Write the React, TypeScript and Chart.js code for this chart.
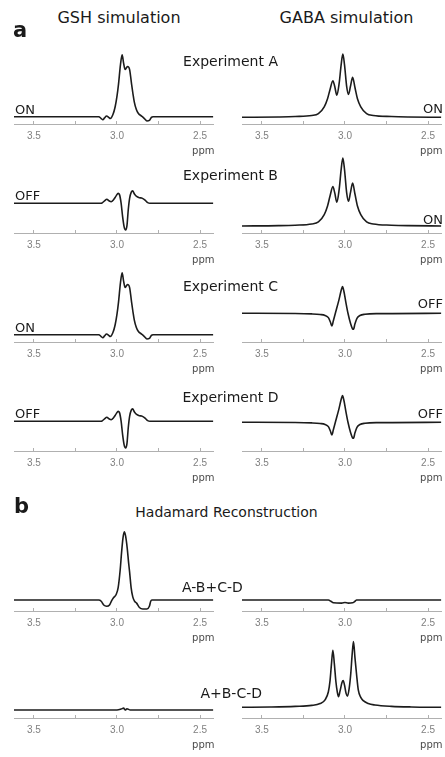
import React, { useEffect, useRef } from 'react';
import { Chart, registerables } from 'chart.js';

Chart.register(...registerables);

// ppm axis (reversed, NMR style)
const PPM_MIN = 2.42;
const PPM_MAX = 3.62;
const PPM_TICKS = [3.5, 3.25, 3.0, 2.75, 2.5];
const PPM_LABELED = [3.5, 3.0, 2.5];
const AXIS_UNIT = 'ppm';

// spectra: [ppm, intensity]
const GSH_ON: [number, number][] = [
  [3.62, 0], [3.2, 0], [3.11, 0], [3.095, -0.03], [3.085, -0.05], [3.075, -0.02], [3.0625, 0.01],
  [3.05, -0.01], [3.04, -0.03], [3.025, 0.03], [3.011, 0.16], [3.0, 0.33], [2.991, 0.52],
  [2.979, 0.84], [2.969, 1.0], [2.96, 0.86], [2.951, 0.76], [2.943, 0.79], [2.936, 0.81],
  [2.924, 0.76], [2.912, 0.52], [2.904, 0.37], [2.896, 0.24], [2.884, 0.12], [2.872, 0.055],
  [2.852, 0.01], [2.835, -0.03], [2.82, -0.07], [2.805, -0.06], [2.793, -0.01], [2.783, 0], [2.42, 0],
];

const GSH_OFF: [number, number][] = [
  [3.62, 0], [3.1, 0], [3.09, 0.005], [3.075, 0.04], [3.061, 0.065], [3.048, 0.04], [3.035, 0.026],
  [3.02, 0.06], [3.005, 0.12], [2.993, 0.16], [2.985, 0.14], [2.975, 0.0], [2.966, -0.22],
  [2.957, -0.38], [2.948, -0.43], [2.94, -0.36], [2.932, -0.1], [2.924, 0.08], [2.914, 0.18],
  [2.906, 0.2], [2.895, 0.15], [2.882, 0.11], [2.865, 0.09], [2.852, 0.085], [2.835, 0.06],
  [2.815, 0.01], [2.802, 0], [2.42, 0],
];

const GABA_ON: [number, number][] = [
  [3.62, 0], [3.4, 0.005], [3.3, 0.012], [3.2, 0.03], [3.16, 0.06], [3.125, 0.17], [3.105, 0.3],
  [3.09, 0.45], [3.073, 0.59], [3.062, 0.5], [3.049, 0.355], [3.035, 0.55], [3.023, 0.85],
  [3.013, 1.02], [3.003, 0.85], [2.99, 0.5], [2.979, 0.37], [2.967, 0.5], [2.954, 0.645],
  [2.94, 0.48], [2.925, 0.3], [2.905, 0.17], [2.87, 0.06], [2.83, 0.03], [2.72, 0.012],
  [2.62, 0.005], [2.42, 0],
];

const GABA_OFF: [number, number][] = [
  [3.62, 0], [3.3, -0.003], [3.2, -0.01], [3.15, -0.02], [3.12, -0.035], [3.1, -0.07],
  [3.088, -0.14], [3.079, -0.205], [3.07, -0.12], [3.058, 0.0], [3.036, 0.22], [3.022, 0.38],
  [3.015, 0.43], [3.007, 0.36], [2.995, 0.18], [2.982, 0.0], [2.966, -0.17], [2.955, -0.25],
  [2.949, -0.258], [2.94, -0.17], [2.928, -0.08], [2.91, -0.035], [2.88, -0.015], [2.8, -0.005],
  [2.42, 0],
];

const GSH_SUM: [number, number][] = [
  [3.62, 0], [3.11, 0], [3.095, -0.02], [3.08, -0.08], [3.062, -0.1], [3.045, -0.08],
  [3.032, -0.01], [3.02, 0.04], [3.005, 0.09], [2.993, 0.2], [2.981, 0.48], [2.972, 0.78],
  [2.964, 1.0], [2.956, 1.1], [2.948, 1.03], [2.939, 0.85], [2.93, 0.6], [2.924, 0.45],
  [2.915, 0.2], [2.905, 0.05], [2.894, -0.02], [2.882, -0.05], [2.865, -0.12], [2.845, -0.145],
  [2.82, -0.145], [2.805, -0.1], [2.797, -0.02], [2.79, 0], [2.42, 0],
];

const GABA_DIFF: [number, number][] = [
  [3.62, 0], [3.1, 0], [3.085, -0.02], [3.07, -0.045], [3.02, -0.05], [3.0, -0.04],
  [2.98, -0.05], [2.955, -0.045], [2.94, -0.02], [2.93, 0], [2.42, 0],
];

const GSH_DIFF: [number, number][] = [
  [3.62, 0], [3.0, 0], [2.975, 0.015], [2.96, 0.03], [2.95, 0.0], [2.94, 0.02], [2.92, 0], [2.42, 0],
];

const GABA_SUM: [number, number][] = [
  [3.62, 0], [3.45, 0.005], [3.3, 0.015], [3.2, 0.03], [3.15, 0.06], [3.12, 0.12], [3.1, 0.25],
  [3.09, 0.43], [3.082, 0.68], [3.073, 0.92], [3.064, 0.7], [3.055, 0.42], [3.046, 0.24],
  [3.039, 0.17], [3.03, 0.26], [3.018, 0.4], [3.011, 0.43], [3.003, 0.36], [2.993, 0.22],
  [2.985, 0.18], [2.975, 0.3], [2.965, 0.55], [2.957, 0.85], [2.949, 1.06], [2.94, 0.8],
  [2.93, 0.52], [2.92, 0.28], [2.905, 0.16], [2.89, 0.106], [2.86, 0.06], [2.82, 0.037],
  [2.72, 0.015], [2.6, 0.005], [2.42, 0],
];

const FONT = '"DejaVu Sans", sans-serif';
const TEXT = '#1a1a1a';
const CANVAS_H = 115;
const AREA_H = 88;

type PanelDef = {
  data: [number, number][];
  left: number;
  axisY: number;
  yMin: number;
  pxPerUnit: number;
};

const LX = 14;
const RX = 242;
const PW = 202;

const PANELS: PanelDef[] = [
  { data: GSH_ON, left: LX, axisY: 124, yMin: -0.118, pxPerUnit: 62 },
  { data: GABA_ON, left: RX, axisY: 124, yMin: -0.108, pxPerUnit: 62 },
  { data: GSH_OFF, left: LX, axisY: 233, yMin: -0.479, pxPerUnit: 62 },
  { data: GABA_ON, left: RX, axisY: 233, yMin: -0.105, pxPerUnit: 66.7 },
  { data: GSH_ON, left: LX, axisY: 342, yMin: -0.118, pxPerUnit: 62 },
  { data: GABA_OFF, left: RX, axisY: 342, yMin: -0.463, pxPerUnit: 62 },
  { data: GSH_OFF, left: LX, axisY: 451, yMin: -0.479, pxPerUnit: 62 },
  { data: GABA_OFF, left: RX, axisY: 451, yMin: -0.463, pxPerUnit: 62 },
  { data: GSH_SUM, left: LX, axisY: 611, yMin: -0.177, pxPerUnit: 62 },
  { data: GABA_DIFF, left: RX, axisY: 611, yMin: -0.177, pxPerUnit: 62 },
  { data: GSH_DIFF, left: LX, axisY: 718, yMin: -0.129, pxPerUnit: 62 },
  { data: GABA_SUM, left: RX, axisY: 718, yMin: -0.173, pxPerUnit: 62 },
];

function Spectrum({ def }: { def: PanelDef }) {
  const ref = useRef<HTMLCanvasElement>(null);
  useEffect(() => {
    const yMax = def.yMin + AREA_H / def.pxPerUnit;
    const chart = new Chart(ref.current!, {
      type: 'line',
      data: {
        datasets: [
          {
            data: def.data.map(([x, y]) => ({ x, y })),
            borderColor: '#1c1c1c',
            borderWidth: 1.6,
            pointRadius: 0,
            cubicInterpolationMode: 'monotone',
            fill: false,
          },
        ],
      },
      options: {
        animation: false,
        responsive: false,
        events: [],
        layout: { padding: 0 },
        plugins: { legend: { display: false }, tooltip: { enabled: false } },
        scales: {
          x: {
            type: 'linear',
            reverse: true,
            min: PPM_MIN,
            max: PPM_MAX,
            afterBuildTicks: (s: any) => {
              s.ticks = PPM_TICKS.map((v) => ({ value: v }));
            },
            ticks: {
              autoSkip: false,
              maxRotation: 0,
              padding: 9,
              color: '#808080',
              font: { family: '"Liberation Sans", sans-serif', size: 10, lineHeight: 1.2 },
              callback: (v: any) => {
                const n = Number(v);
                return PPM_LABELED.some((p) => Math.abs(p - n) < 1e-6) ? n.toFixed(1) : '';
              },
            },
            grid: { drawOnChartArea: false, drawTicks: true, tickLength: -3, color: '#b0b0b0' },
            border: { display: true, color: '#b0b0b0', width: 1 },
            title: { display: false },
          },
          y: { display: false, min: def.yMin, max: yMax },
        },
      },
    } as any);
    return () => chart.destroy();
  }, [def]);
  return (
    <canvas
      ref={ref}
      width={PW}
      height={CANVAS_H}
      style={{ position: 'absolute', left: def.left, top: def.axisY - AREA_H }}
    />
  );
}

type LabelDef = {
  text: string;
  x: number;
  y: number;
  align: 'left' | 'center' | 'right';
  size: number;
  bold?: boolean;
  color?: string;
};

const LABELS: LabelDef[] = [
  { text: 'GSH simulation', x: 119, y: 17.5, align: 'center', size: 16 },
  { text: 'GABA simulation', x: 346.5, y: 17.5, align: 'center', size: 16 },
  { text: 'a', x: 13, y: 29.5, align: 'left', size: 21, bold: true },
  { text: 'Experiment A', x: 230.5, y: 61, align: 'center', size: 14 },
  { text: 'ON', x: 15, y: 109, align: 'left', size: 13 },
  { text: 'ON', x: 443, y: 108.3, align: 'right', size: 13 },
  { text: 'Experiment B', x: 230.5, y: 175, align: 'center', size: 14 },
  { text: 'OFF', x: 15, y: 195, align: 'left', size: 13 },
  { text: 'ON', x: 443, y: 219, align: 'right', size: 13 },
  { text: 'Experiment C', x: 230.5, y: 286, align: 'center', size: 14 },
  { text: 'ON', x: 15, y: 327, align: 'left', size: 13 },
  { text: 'OFF', x: 443, y: 302.5, align: 'right', size: 13 },
  { text: 'Experiment D', x: 230.5, y: 396.5, align: 'center', size: 14 },
  { text: 'OFF', x: 15, y: 413, align: 'left', size: 13 },
  { text: 'OFF', x: 443, y: 412.5, align: 'right', size: 13 },
  { text: 'b', x: 14, y: 506, align: 'left', size: 21, bold: true },
  { text: 'Hadamard Reconstruction', x: 226.5, y: 512, align: 'center', size: 14 },
  { text: 'A-B+C-D', x: 182, y: 586.5, align: 'left', size: 14 },
  { text: 'A+B-C-D', x: 262, y: 693, align: 'right', size: 14 },
  ...PANELS.map((p) => ({
    text: AXIS_UNIT,
    x: p.left + PW - 1.5,
    y: p.axisY + 27,
    align: 'right' as const,
    size: 10,
    color: '#4a4a4a',
  })),
];

function Label({ l }: { l: LabelDef }) {
  const style: React.CSSProperties = {
    position: 'absolute',
    top: l.y,
    fontFamily: FONT,
    fontSize: l.size,
    fontWeight: l.bold ? 'bold' : 'normal',
    lineHeight: 1,
    color: l.color || TEXT,
    whiteSpace: 'nowrap',
  };
  if (l.align === 'left') {
    style.left = l.x;
    style.transform = 'translateY(-50%)';
  } else if (l.align === 'right') {
    style.right = 445 - l.x;
    style.transform = 'translateY(-50%)';
  } else {
    style.left = l.x;
    style.transform = 'translate(-50%, -50%)';
  }
  return <div style={style}>{l.text}</div>;
}

export default function App() {
  return (
    <div
      style={{
        position: 'absolute',
        left: 0,
        top: 0,
        width: 445,
        height: 757,
        background: '#fff',
        overflow: 'hidden',
      }}
    >
      {PANELS.map((p, i) => (
        <Spectrum key={i} def={p} />
      ))}
      {LABELS.map((l, i) => (
        <Label key={i} l={l} />
      ))}
    </div>
  );
}
